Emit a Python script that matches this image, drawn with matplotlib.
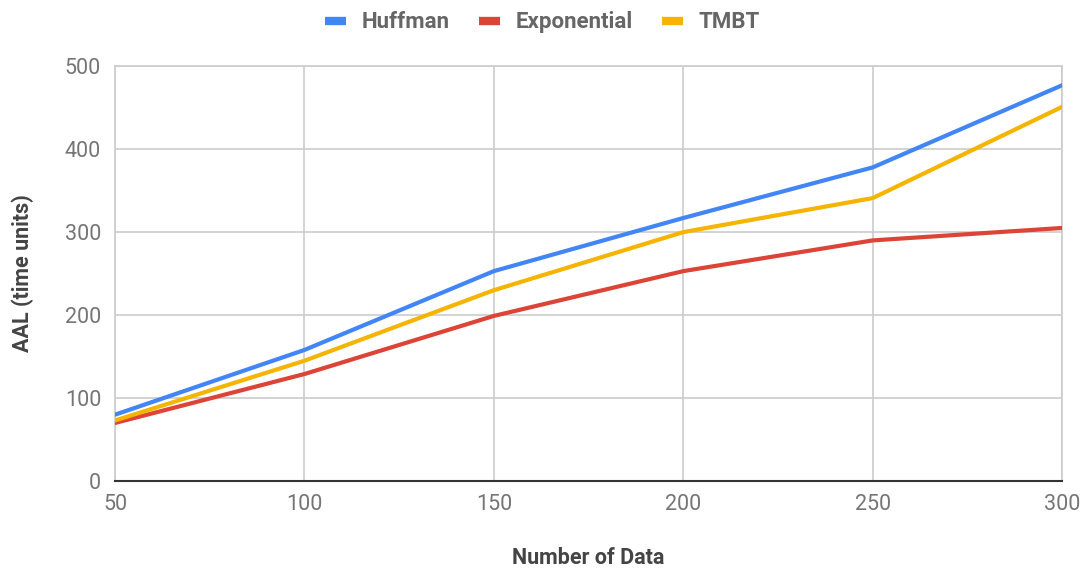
import matplotlib
matplotlib.use("Agg")
import matplotlib.pyplot as plt

plt.rcParams['font.family'] = ['Roboto', 'DejaVu Sans']

x_vals = [50, 100, 150, 200, 250, 300]
huffman = [80, 158, 253, 317, 378, 477]
exponential = [70, 129, 199, 253, 290, 305]
tmbt = [73, 145, 230, 300, 341, 451]

series_names = ['Huffman', 'Exponential', 'TMBT']
colors = ['#4285f4', '#db4437', '#f4b400']

fig = plt.figure(figsize=(10.85, 5.7), dpi=100)
ax = fig.add_axes([0.106, 0.156, 0.873, 0.728])

for vals, name, c in zip([huffman, exponential, tmbt], series_names, colors):
    ax.plot(x_vals, vals, color=c, lw=3.0, label=name, solid_capstyle='round', zorder=3)

ax.set_xlim(50, 300)
ax.set_ylim(0, 500)
ax.set_xticks(x_vals)
ax.set_yticks([0, 100, 200, 300, 400, 500])
ax.grid(True, color='#cccccc', lw=1.2)
ax.set_axisbelow(True)

for s in ['top', 'right', 'left']:
    ax.spines[s].set_color('#cccccc')
    ax.spines[s].set_linewidth(1.2)
ax.spines['bottom'].set_color('#333333')
ax.spines['bottom'].set_linewidth(1.5)

ax.tick_params(length=0, labelsize=15.5, labelcolor='#757575', pad=9)
ax.tick_params(axis='y', pad=10)

ax.set_xlabel('Number of Data', fontsize=15.5, fontweight='bold', color='#444444', labelpad=23)
ax.set_ylabel('AAL (time units)', fontsize=15.5, fontweight='bold', color='#444444', labelpad=22)

leg = fig.legend(loc='upper center', bbox_to_anchor=(0.5, 1.015), ncol=3, frameon=False,
                 fontsize=16, handlelength=0.95, handletextpad=0.72, columnspacing=1.3)
for t in leg.get_texts():
    t.set_color('#666666')
    t.set_fontweight('bold')
for h in leg.legend_handles:
    h.set_linewidth(6)
    h.set_solid_capstyle('butt')

fig.savefig('out.png', dpi=100)
